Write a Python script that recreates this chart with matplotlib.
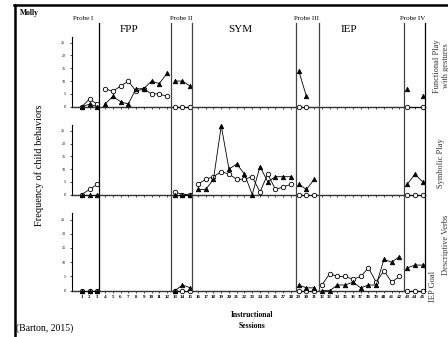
import numpy as np
import matplotlib.pyplot as plt
from matplotlib.lines import Line2D
from matplotlib import transforms

plt.rcParams['font.family'] = ['Liberation Serif', 'DejaVu Serif']

N = np.nan
sessions = np.arange(1, 46)
# phase boundaries (first, last session of each condition)
phases = [(1, 3), (4, 12), (13, 15), (16, 28), (29, 31), (32, 42), (43, 45)]
phase_names = ['Probe I', 'FPP', 'Probe II', 'SYM', 'Probe III', 'IEP', 'Probe IV']
phase_lines = [3.2, 12.52, 15.23, 28.65, 31.6, 42.6, 45.3]

# functional play with gestures
fp_tri = [0, 1, 0, 1, 4, 2, 1, 7, 7, 10, 9, 13, 10, 10, 8] + [N] * 13 + [14, 4, N] + [N] * 11 + [7, N, 4]
fp_circ = [0, 3, 1, 7, 6, 8, 10, 6, 7, 5, 5, 4, 0, 0, 0] + [N] * 13 + [0, 0, N] + [N] * 11 + [0, N, 0]
# symbolic play
sp_tri = [0, 0, 0] + [N] * 9 + [0, 0, 0] + [2, 2, 6, 27, 10, 12, 8, 0, 11, 5, 7, 7, 7] + [4, 2, 6] + [N] * 11 + [4, 8, 5]
sp_circ = [0, 2, 4] + [N] * 9 + [1, 0, 0] + [4, 6, 7, 9, 8, 6, 6, 7, 1, 8, 2, 3, 4] + [0, 0, 0] + [N] * 11 + [0, 0, 0]
# IEP goal descriptive verbs
iep_tri = [0, 0, 0] + [N] * 9 + [0, 2, 1] + [N] * 13 + [2, 1, 1] + [0, 0, 2, 2, 3, 1, 2, 2, 11, 10, 12] + [8, 9, 9]
iep_circ = [0, 0, 0] + [N] * 9 + [0, 0, 0] + [N] * 13 + [0, 0, 0] + [2, 6, 5, 5, 4, 5, 8, 3, 7, 3, 5] + [0, 0, 0]

panels = [
    (fp_tri, fp_circ, (0.6834, 0.2077)),
    (sp_tri, sp_circ, (0.4228, 0.2062)),
    (iep_tri, iep_circ, (0.1374, 0.2306)),
]

W, H = 448, 337
fig = plt.figure(figsize=(W / 100, H / 100), dpi=100)


def px(x, y):
    return x / W, 1 - y / H


axes = []
for tri, circ, (b, h) in panels:
    ax = fig.add_axes([71.7 / W, b, (425 - 71.7) / W, h])
    ax.set_xlim(-0.3, 45.3)
    ax.set_ylim(0, 27.3)
    tri = np.array(tri, dtype=float)
    circ = np.array(circ, dtype=float)
    for s, e in phases:
        m = (sessions >= s) & (sessions <= e)
        # open circles bridge a skipped session, triangles break at it
        ok = m & ~np.isnan(circ)
        if ok.any():
            ax.plot(sessions[ok], circ[ok], color='black', lw=0.6,
                    marker='o', ms=3.2, mfc='white', mec='black', mew=0.6,
                    clip_on=False, zorder=3)
        if (m & ~np.isnan(tri)).any():
            ax.plot(sessions[m], tri[m], color='black', lw=0.6,
                    marker='^', ms=3.2, mfc='black', mec='black', mew=0.6,
                    clip_on=False, zorder=3)
    for side in ['top', 'right']:
        ax.spines[side].set_visible(False)
    ax.spines['left'].set_linewidth(0.8)
    ax.spines['bottom'].set_linewidth(1.0)
    ax.spines['bottom'].set_color('#333333')
    ax.set_yticks([0, 5, 10, 15, 20, 25])
    ax.set_xticks(sessions)
    ax.tick_params(axis='y', length=1.5, width=0.5, labelsize=3, pad=3)
    ax.tick_params(axis='x', length=1.5, width=0.5, labelsize=3.6, pad=1.5)
    ax.set_xticklabels([])
    ax.patch.set_alpha(0)
    axes.append(ax)

axes[-1].set_xticklabels([str(s) for s in sessions], fontweight='bold')

# condition change lines across all three panels
tr = transforms.blended_transform_factory(axes[-1].transData, fig.transFigure)
for i, x in enumerate(phase_lines):
    col = 'black' if i in (0, 6) else '#444444'
    fig.add_artist(Line2D([x, x], [1 - 23 / H, 0.1374], transform=tr,
                          color=col, lw=0.9))

# outer frame
fig.add_artist(Line2D([15 / W, 15 / W], [0, 1 - 5 / H], color='black', lw=1.8))
fig.add_artist(Line2D([14 / W, 1], [1 - 5 / H, 1 - 5 / H], color='black', lw=1.8))

fig.text(*px(20, 13), 'Molly', fontsize=5.5, fontweight='bold', va='center')
probe_x = [83.5, 129, 181, 240, 306, 349, 413]
for name, x in zip(phase_names, probe_x):
    if name.startswith('Probe'):
        fig.text(*px(x, 18), name, fontsize=5, ha='center', va='center')
    else:
        fig.text(*px(x, 30), name, fontsize=8, ha='center', va='center')

# panel labels on the right
rlab = dict(fontsize=6, rotation=90, ha='center', va='center', color='#333333')
fig.text(*px(437, 66), 'Functional Play', **rlab)
fig.text(*px(445.5, 66), 'with gestures', **rlab)
fig.text(*px(441, 163), 'Symbolic Play', **rlab)
fig.text(*px(433, 286), 'IEP Goal', **rlab)
fig.text(*px(445.5, 245), 'Descriptive Verbs', **rlab)

fig.text(*px(39, 165), 'Frequency of child behaviors', fontsize=7.5, rotation=90,
         ha='center', va='center')
fig.text(*px(252, 315), 'Instructional', fontsize=5.5, fontweight='bold', ha='center', va='center')
fig.text(*px(252, 326), 'Sessions', fontsize=5.5, fontweight='bold', ha='center', va='center')
fig.text(*px(16, 328), '(Barton, 2015)', fontsize=7, va='center')

fig.savefig('out.png', dpi=100)
